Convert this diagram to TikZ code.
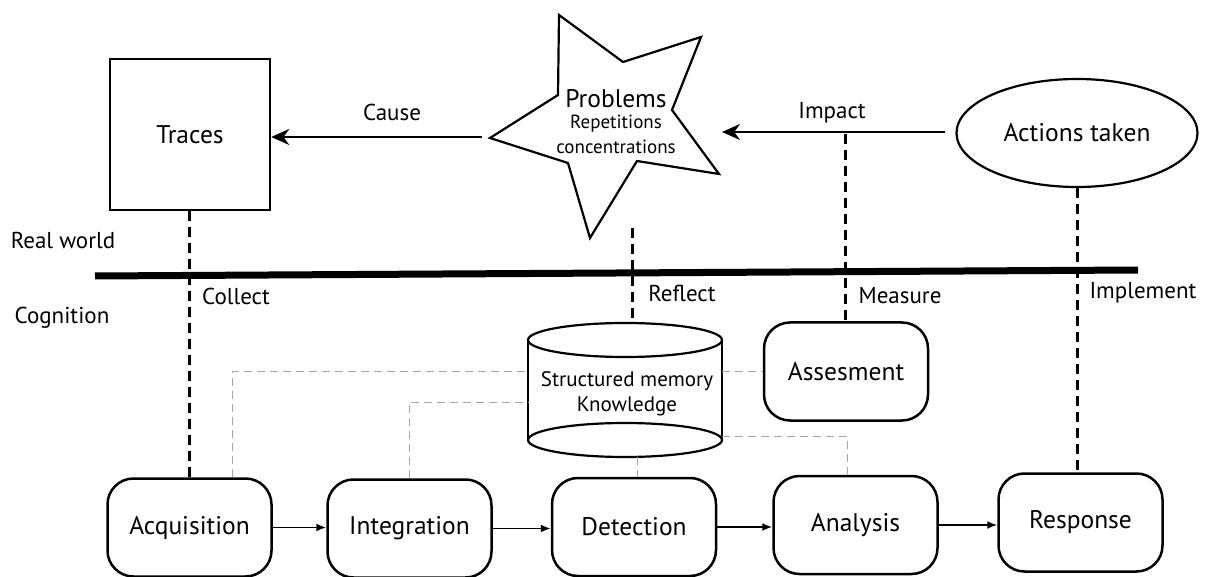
\documentclass[tikz,border=0pt]{standalone}
\usepackage{fontspec}
\setmainfont{PT Sans}
\usetikzlibrary{arrows.meta,shapes.geometric}
\tikzset{
  procbox/.style={draw,line width=2.5pt,rounded corners=26pt,minimum width=164pt,minimum height=98pt,inner sep=0pt,font=\fontsize{25.5}{30}\selectfont},
  sidelbl/.style={font=\fontsize{23}{27}\selectfont,inner sep=0pt},
  linkdash/.style={line width=3pt,dash pattern=on 10pt off 6pt},
  memdash/.style={line width=1pt,gray!70,dash pattern=on 8pt off 5pt},
  flowarrow/.style={line width=1.8pt,-{Latex[length=10pt,width=8pt]}},
  bigarrow/.style={line width=2.5pt,-{Stealth[length=18pt,width=16pt]}},
  shapeline/.style={draw,line width=2.2pt}
}
\begin{document}
\begin{tikzpicture}[x=1pt,y=-1pt]
\useasboundingbox (0,0) rectangle (1208,577);

% real world elements
\node[shapeline,line width=2.5pt,minimum width=160pt,minimum height=151pt,inner sep=0pt,font=\fontsize{25.5}{30}\selectfont] (traces) at (190,134.5) {Traces};
\node[shapeline,ellipse,minimum width=241pt,minimum height=108pt,inner sep=0pt,font=\fontsize{25.5}{30}\selectfont] (act) at (1077,133) {Actions taken};

% star
\draw[shapeline] (559,15) -- (623,62) -- (701,37) -- (672,110) -- (719,174) -- (637,161) -- (590,238) -- (568,163) -- (490,138) -- (558,95) -- cycle;
\node[font=\fontsize{25.5}{30}\selectfont,inner sep=0pt] (prob) at (616,99) {Problems};
\node[font=\fontsize{19}{22}\selectfont,inner sep=0pt] (rep) at (616,124) {Repetitions};
\node[font=\fontsize{19}{22}\selectfont,inner sep=0pt] (conc) at (616,147) {concentrations};

% separator
\coordinate (sepL) at (95,276);
\coordinate (sepR) at (1138,270);
\draw[line width=7pt] (sepL) -- (sepR);

% labels
\node[sidelbl] (lcause) at (392,112) {Cause};
\node[sidelbl] (limpact) at (832,113) {Impact};
\node[sidelbl] (lreal) at (63,240) {Real world};
\node[sidelbl] (lcog) at (62,318) {Cognition};
\node[sidelbl] (lcollect) at (236,296) {Collect};
\node[sidelbl] (lreflect) at (682,293) {Reflect};
\node[sidelbl] (lmeasure) at (900,296) {Measure};
\node[sidelbl] (limpl) at (1143,293) {Implement};

% process boxes
\node[procbox] (acq) at (189.5,527.5) {Acquisition};
\node[procbox] (int) at (409.5,528.5) {Integration};
\node[procbox] (det) at (634,527) {Detection};
\node[procbox] (ana) at (855.5,525) {Analysis};
\node[procbox] (resp) at (1080.5,522.5) {Response};
\node[procbox] (assess) at (846,371.5) {Assesment};

% memory cylinder
\coordinate (memW) at (528,390);
\coordinate (memE) at (722,390);
\coordinate (memT) at (632,323);
\draw[line width=2.8pt] (528,340) -- (528,440) (722,340) -- (722,440);
\draw[line width=2.2pt] (625,340) ellipse [x radius=97pt, y radius=17pt];
\draw[line width=2.2pt] (625,440) ellipse [x radius=97pt, y radius=17pt];
\node[font=\fontsize{21}{25.5}\selectfont,align=center,inner sep=0pt] (mem) at (627,393.5) {Structured memory\\Knowledge};

% arrows
\coordinate (causeS) at (482,137);
\draw[bigarrow] (causeS) -- (causeS -| traces.east);
\coordinate (impS) at (945,132);
\coordinate (impE) at (722,132);
\draw[bigarrow] (impS) -- (impE);

\draw[flowarrow] (acq.east) -- (acq.east -| int.west);
\draw[flowarrow] (int.east) -- (int.east -| det.west);
\draw[flowarrow] (det.east) -- (det.east -| ana.west);
\draw[flowarrow] (ana.east) -- (ana.east -| resp.west);

% dashed links real world -> cognition
\draw[linkdash] (acq.north |- traces.south) -- (acq.north);
\coordinate (starB) at (632,228);
\draw[linkdash] (starB) -- (memT);
\coordinate (impM) at (845,134);
\draw[linkdash] (impM) -- (impM |- assess.north);
\draw[linkdash] (act.south) -- (act.south |- resp.north);

% memory links
\coordinate (g1) at (232,372);
\draw[memdash] (g1 |- acq.north) -- (g1) -- (g1 -| memW);
\draw[memdash] (g1 -| memE) -- (g1 -| assess.west);
\coordinate (g2) at (409,402);
\draw[memdash] (g2 |- int.north) -- (g2) -- (g2 -| memW);
\coordinate (g3) at (637,457);
\draw[memdash] (g3) -- (g3 |- det.north);
\coordinate (g4) at (847,436);
\draw[memdash] (g4 -| memE) -- (g4) -- (g4 |- ana.north);
\end{tikzpicture}
\end{document}
